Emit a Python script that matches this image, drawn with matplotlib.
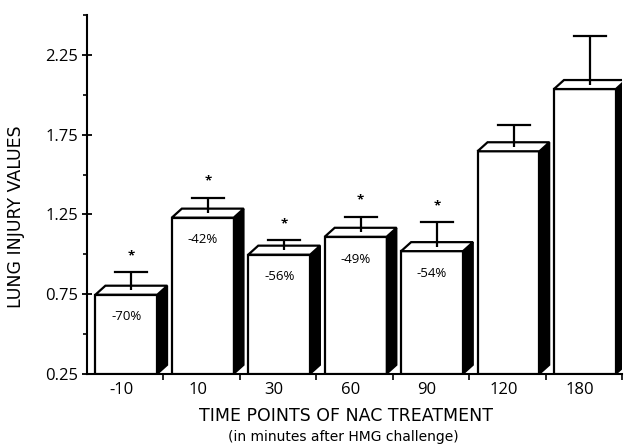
import matplotlib
matplotlib.use("Agg")
import matplotlib.pyplot as plt
from matplotlib.patches import Polygon

plt.rcParams['font.family'] = ['Open Sans', 'DejaVu Sans']

categories = ["-10", "10", "30", "60", "90", "120", "180"]
values = [0.747, 1.23, 0.998, 1.11, 1.02, 1.646, 2.036]
errors = [0.14, 0.125, 0.09, 0.125, 0.18, 0.165, 0.33]
pct_labels = ["-70%", "-42%", "-56%", "-49%", "-54%", None, None]
significant = [True, True, True, True, True, False, False]
y_major = [0.25, 0.75, 1.25, 1.75, 2.25]
y_minor = [0.5, 1.0, 1.5, 2.0, 2.5]

W, H = 630, 446
fig = plt.figure(figsize=(W / 100, H / 100), dpi=100)
ax = fig.add_axes([87 / W, 1 - 374 / H, (622 - 87) / W, (374 - 15) / H])

ymin, ymax = 0.25, 2.5
ax.set_xlim(-0.5, len(categories) - 0.5)
ax.set_ylim(ymin, ymax)

# pixel -> data conversion through the axes scale
bbox = ax.get_window_extent()
px_x = (len(categories)) / bbox.width
px_y = (ymax - ymin) / bbox.height
dx = 10 * px_x
dy = 9 * px_y
bar_w = 0.81
cap_w = 32 * px_x

xs = list(range(len(categories)))
ax.bar([x + 0.015 for x in xs], [v - ymin for v in values], bottom=ymin, width=bar_w,
       facecolor='white', edgecolor='black', linewidth=1.6, zorder=3)

for i, (v, e) in enumerate(zip(values, errors)):
    xc = i + 0.015
    x0, x1 = xc - bar_w / 2, xc + bar_w / 2
    side = Polygon([(x1, ymin), (x1 + dx, ymin + dy), (x1 + dx, v + dy), (x1, v)],
                   closed=True, facecolor='black', edgecolor='black', linewidth=1.2, zorder=3)
    ax.add_patch(side)
    top = Polygon([(x0, v), (x0 + dx, v + dy), (x1 + dx, v + dy), (x1, v)],
                  closed=True, facecolor='white', edgecolor='black', linewidth=1.6, zorder=4)
    ax.add_patch(top)
    ex = xc + dx / 2
    ax.plot([ex, ex], [v + dy / 2, v + e], color='black', linewidth=1.6, zorder=5,
            solid_capstyle='butt')
    ax.plot([ex - cap_w / 2, ex + cap_w / 2], [v + e, v + e], color='black',
            linewidth=1.6, zorder=5)
    if significant[i]:
        ax.annotate('*', xy=(ex, v + e), xytext=(0, 12), textcoords='offset points',
                    ha='center', va='center', fontsize=9.5, fontweight='bold', zorder=6)
    if pct_labels[i]:
        ax.annotate(pct_labels[i], xy=(xc, v), xytext=(0, -16), textcoords='offset points',
                    ha='center', va='center', fontsize=9.5, zorder=6)

for s in ['top', 'right']:
    ax.spines[s].set_visible(False)
ax.spines['left'].set_linewidth(1.5)
ax.spines['bottom'].set_linewidth(1.5)

ax.set_yticks(y_major)
ax.set_yticks(y_minor, minor=True)
ax.set_yticklabels([f"{t:.2f}" for t in y_major])
ax.tick_params(axis='y', which='major', direction='inout', length=7, width=1.3, labelsize=12, pad=3)
ax.tick_params(axis='y', which='minor', direction='out', length=3, width=1.2)

ax.set_xticks([i + 0.5 for i in range(len(categories))])
ax.set_xticklabels([])
ax.set_xticks([i - 0.05 for i in xs], minor=True)
ax.set_xticklabels(categories, minor=True)
ax.tick_params(axis='x', which='major', direction='out', length=4, width=1.2)
ax.tick_params(axis='x', which='minor', length=0, labelsize=12, pad=6)

ax.set_ylabel("LUNG INJURY VALUES", fontsize=12.5, family=['DejaVu Sans'])
ax.yaxis.set_label_coords(-0.115, 0.437)

fig.text(346 / W, 1 - 416 / H, "TIME POINTS OF NAC TREATMENT", ha='center', va='center',
         fontsize=12.5, family=['DejaVu Sans'])
fig.text(343 / W, 1 - 437 / H, "(in minutes after HMG challenge)", ha='center', va='center',
         fontsize=10, family=['DejaVu Sans'])

fig.savefig("out.png", dpi=100)
